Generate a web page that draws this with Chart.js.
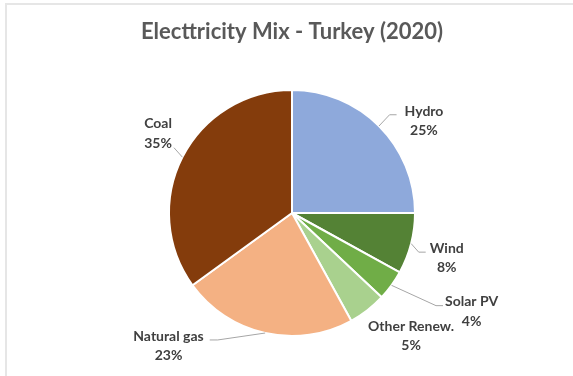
<!DOCTYPE html>
<html>
<head>
<meta charset="utf-8">
<script src="https://cdn.jsdelivr.net/npm/chart.js@4"></script>
<style>
    html, body { margin: 0; padding: 0; background: #fff; }
    #wrap { position: relative; width: 573px; height: 376px; overflow: hidden; }
    #wrap canvas { position: absolute; left: 0; top: 0; }
    #frame { position: absolute; left: 5px; top: 3px; right: -2px; bottom: -2px; border-top: 2px solid #e6e6e6; border-left: 2px solid #e6e6e6; pointer-events: none; }
</style>
</head>
<body>
<div id="wrap">
    <canvas id="graficoMix" width="573" height="376"></canvas>
    <div id="frame"></div>
</div>
<script>
const fontes = ["Hydro", "Wind", "Solar PV", "Other Renew.", "Natural gas", "Coal"];
const participacao = [25, 8, 4, 5, 23, 35];
const cores = ["#8EA9DB", "#548235", "#70AD47", "#A9D18E", "#F4B183", "#843C0C"];

// rótulos fora da pizza, com linha guia até o meio do arco
const rotulosPizza = {
    id: "rotulosPizza",
    afterDraw(chart, args, opts) {
        const ctx = chart.ctx;
        const meta = chart.getDatasetMeta(0);
        const dados = chart.data.datasets[0].data;
        const total = dados.reduce((a, b) => a + b, 0);

        ctx.save();
        ctx.font = opts.fonte;
        ctx.textAlign = "center";
        ctx.textBaseline = "middle";

        meta.data.forEach((arc, i) => {
            const p = arc.getProps(["x", "y", "startAngle", "endAngle", "outerRadius"], true);
            const pos = opts.posicoes[i];
            const cx = p.x + pos.dx * p.outerRadius;
            const cy = p.y + pos.dy * p.outerRadius;
            const nome = chart.data.labels[i];
            const pct = Math.round((dados[i] / total) * 100) + "%";
            const largura = Math.max(ctx.measureText(nome).width, ctx.measureText(pct).width);

            if (pos.guia) {
                const meio = (p.startAngle + p.endAngle) / 2;
                const ax = p.x + Math.cos(meio) * p.outerRadius;
                const ay = p.y + Math.sin(meio) * p.outerRadius;
                const pontos = [];
                if (pos.guia === "esq") {
                    const ex = cx - largura / 2 - pos.folga;
                    pontos.push([ex, cy - 6], [ex - 7, cy - 6]);
                } else if (pos.guia === "dir") {
                    const ex = cx + largura / 2 + pos.folga;
                    pontos.push([ex, cy - 6], [ex + 8, cy - 6]);
                } else {
                    pontos.push([cx + largura / 2 + 2, cy + 14]);
                }
                pontos.push([ax, ay]);

                ctx.strokeStyle = "#a6a6a6";
                ctx.lineWidth = 1;
                ctx.beginPath();
                ctx.moveTo(pontos[0][0], pontos[0][1]);
                pontos.slice(1).forEach((pt) => ctx.lineTo(pt[0], pt[1]));
                ctx.stroke();
            }

            ctx.fillStyle = "#404040";
            ctx.fillText(nome, cx, cy - 9.7);
            ctx.fillText(pct, cx, cy + 9.7);
        });
        ctx.restore();
    },
};

const ctx = document.getElementById("graficoMix").getContext("2d");

new Chart(ctx, {
    type: "pie",
    data: {
        labels: fontes,
        datasets: [
            {
                data: participacao,
                backgroundColor: cores,
                borderColor: "#ffffff",
                borderWidth: 2,
            },
        ],
    },
    options: {
        responsive: false,
        animation: false,
        layout: {
            padding: { left: 11, right: 0, top: 0, bottom: 39 },
        },
        plugins: {
            legend: { display: false },
            tooltip: { enabled: false },
            title: {
                display: true,
                text: "Electtricity Mix - Turkey (2020)",
                color: "#595959",
                font: { family: "Lato", size: 22, weight: "bold", lineHeight: 1.2 },
                padding: { top: 18.5, bottom: 44.1 },
            },
            rotulosPizza: {
                fonte: "bold 14px Lato",
                posicoes: [
                    { dx: 1.073, dy: -0.75, guia: "esq", folga: 8 },
                    { dx: 1.258, dy: 0.367, guia: "esq", folga: 4 },
                    { dx: 1.46, dy: 0.802, guia: "esq", folga: 2 },
                    { dx: 0.968, dy: 1.0, guia: null },
                    { dx: -1.004, dy: 1.081, guia: "dir", folga: 6 },
                    { dx: -1.089, dy: -0.645, guia: "canto" },
                ],
            },
        },
    },
    plugins: [rotulosPizza],
});
</script>
</body>
</html>
